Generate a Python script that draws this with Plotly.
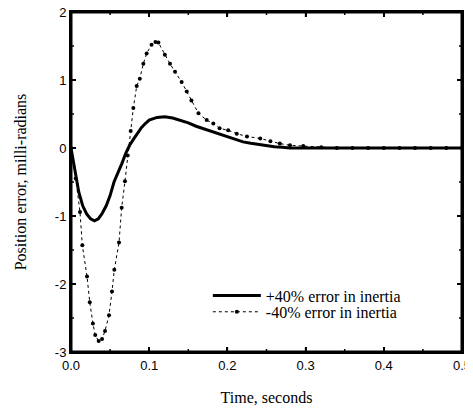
import plotly.graph_objects as go

# +40% error in inertia (solid)
t_plus = [0, 0.005, 0.010, 0.015, 0.020, 0.025, 0.030, 0.035, 0.040, 0.045, 0.050, 0.055,
          0.060, 0.065, 0.070, 0.075, 0.080, 0.085, 0.090, 0.095, 0.100, 0.110, 0.120, 0.130,
          0.140, 0.150, 0.160, 0.170, 0.180, 0.190, 0.200, 0.210, 0.220, 0.230, 0.240, 0.250,
          0.260, 0.270, 0.280, 0.300, 0.350, 0.400, 0.450, 0.500]
y_plus = [0, -0.35, -0.65, -0.85, -0.97, -1.04, -1.07, -1.04, -0.96, -0.85, -0.70, -0.50,
          -0.37, -0.23, -0.08, 0.04, 0.13, 0.22, 0.30, 0.36, 0.41, 0.45, 0.46, 0.44,
          0.41, 0.37, 0.32, 0.28, 0.24, 0.20, 0.16, 0.12, 0.09, 0.07, 0.05, 0.03,
          0.02, 0.01, 0.0, 0, 0, 0, 0, 0]

# -40% error in inertia (dotted with markers)
t_minus = [0, 0.006, 0.0115, 0.0145, 0.0205, 0.024, 0.028, 0.031, 0.0354, 0.0397, 0.0435,
           0.0486, 0.0524, 0.0554, 0.0614, 0.0648, 0.069, 0.0725, 0.0763, 0.0797, 0.084,
           0.088, 0.0925, 0.0967, 0.103, 0.108, 0.1117, 0.120, 0.1266, 0.133, 0.1415, 0.148,
           0.154, 0.163, 0.1735, 0.182, 0.190, 0.201, 0.212, 0.225, 0.242, 0.255, 0.267,
           0.280, 0.297, 0.320, 0.340, 0.360, 0.380, 0.400, 0.420, 0.440, 0.460, 0.480, 0.500]
y_minus = [0, -0.45, -0.94, -1.43, -1.89, -2.27, -2.58, -2.75, -2.84, -2.81, -2.69,
           -2.46, -2.11, -1.79, -1.39, -0.88, -0.49, -0.11, 0.25, 0.59, 0.91,
           1.02, 1.24, 1.39, 1.52, 1.56, 1.55, 1.37, 1.24, 1.12, 0.97, 0.83,
           0.70, 0.51, 0.41, 0.36, 0.29, 0.26, 0.21, 0.17, 0.14, 0.10, 0.065,
           0.04, 0.03, 0.01, 0.0, 0, 0, 0, 0, 0, 0, 0, 0]

x_range = [0, 0.5]
y_range = [-3, 2]
x_ticks = [0.0, 0.1, 0.2, 0.3, 0.4, 0.5]
x_labels = ["0.0", "0.1", "0.2", "0.3", "0.4", "0.5"]
x_minor = [0.05, 0.15, 0.25, 0.35, 0.45]
y_ticks = [2, 1, 0, -1, -2, -3]
y_labels = ["2", "1", "0", "-1", "-2", "-3"]
y_minor = [1.5, 0.5, -0.5, -1.5, -2.5]

serif = "Liberation Serif"
sans = "Liberation Sans"

# plot-area size in pixels, used to turn tick lengths (px) into data units
PLOT_W, PLOT_H = 391, 340
dx = (x_range[1] - x_range[0]) / PLOT_W
dy = (y_range[1] - y_range[0]) / PLOT_H
MAJ, MIN = 5, 3

fig = go.Figure()
fig.add_trace(go.Scatter(x=t_plus, y=y_plus, mode="lines", name="+40% error in inertia",
                         line=dict(color="black", width=3), legend="legend"))
fig.add_trace(go.Scatter(x=t_minus, y=y_minus, mode="lines+markers", name="-40% error in inertia",
                         line=dict(color="black", width=1, dash="dot"),
                         marker=dict(color="black", size=4, symbol="circle"), legend="legend2"))

# frame around the plotting area, built from the axis ranges (inset half a pixel so it is not clipped)
x0, x1 = x_range[0] + 0.5 * dx, x_range[1] - 0.5 * dx
y0, y1 = y_range[0] + 0.5 * dy, y_range[1] - 0.5 * dy
fig.add_trace(go.Scatter(x=[x0, x1, x1, x0, x0], y=[y0, y0, y1, y1, y0], mode="lines",
                         name="frame", line=dict(color="black", width=2), showlegend=False))

# inward tick marks on all four sides, built from the tick arrays
tx, ty = [], []
for vals, ln in ((x_ticks, MAJ), (x_minor, MIN)):
    for v in vals:
        tx += [v, v, None, v, v, None]
        ty += [y_range[0], y_range[0] + ln * dy, None, y_range[1], y_range[1] - ln * dy, None]
for vals, ln in ((y_ticks, MAJ), (y_minor, MIN)):
    for v in vals:
        tx += [x_range[0], x_range[0] + ln * dx, None, x_range[1], x_range[1] - ln * dx, None]
        ty += [v, v, None, v, v, None]
fig.add_trace(go.Scatter(x=tx, y=ty, mode="lines", name="ticks", line=dict(color="black", width=1.5),
                         showlegend=False))

axis_common = dict(showline=True, linecolor="black", linewidth=2, mirror="allticks",
                   ticks="inside", ticklen=5, tickcolor="black", tickwidth=1.5,
                   showgrid=False, zeroline=False, automargin=False,
                   ticklabeloverflow="allow",
                   tickfont=dict(family=sans, size=13, color="black"))

fig.update_xaxes(range=x_range, tickmode="array", tickvals=x_ticks, ticktext=x_labels,
                 title=dict(text="Time, seconds", font=dict(family=serif, size=16, color="black"), standoff=20),
                 **axis_common)
fig.update_yaxes(range=y_range, tickmode="array", tickvals=y_ticks, ticktext=y_labels,
                 title=dict(text="Position error, milli-radians", font=dict(family=serif, size=16, color="black"), standoff=24),
                 **axis_common)

leg_common = dict(xanchor="left", yanchor="top", bgcolor="rgba(0,0,0,0)",
                  font=dict(family=serif, size=16, color="black"), itemwidth=48)

# page body has an 8px default margin; compensate so the plot area lands at x 71..462, y 12..352
fig.update_layout(
    width=465, height=400,
    margin=dict(l=63, r=11, t=4, b=56),
    paper_bgcolor="white", plot_bgcolor="white",
    showlegend=True,
    hovermode=False,
    legend=dict(x=0.350, y=0.216, **leg_common),
    legend2=dict(x=0.350, y=0.168, **leg_common),
)

fig.write_html("out.html")
